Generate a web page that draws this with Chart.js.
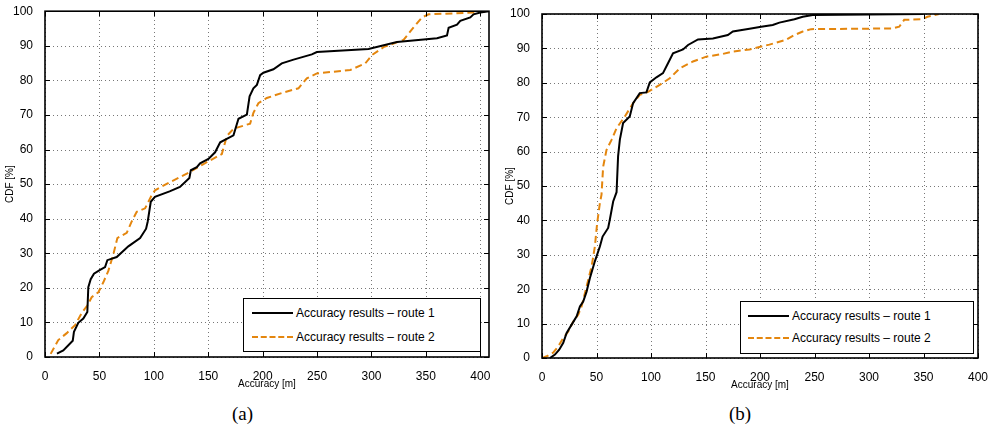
<!DOCTYPE html>
<html>
<head>
<meta charset="utf-8">
<script src="https://cdn.jsdelivr.net/npm/chart.js@4/dist/chart.umd.min.js"></script>
<style>
  body { margin: 0; background: #fff; width: 996px; height: 430px; position: relative; overflow: hidden; }
  canvas { position: absolute; }
  .legend { position: absolute; background: #fff; border: 1.3px solid #000; box-sizing: border-box;
            font: 12px "Liberation Sans", Arial, sans-serif; color: #000; }
  .row { position: absolute; left: 0; height: 14px; line-height: 14px; white-space: nowrap; }
  .row span.ln { position: absolute; top: 6px; height: 0; }
  .row span.tx { position: absolute; top: 0; }
  .cap { position: absolute; top: 403px; font: 19px "Liberation Serif", "DejaVu Serif", serif; }
</style>
</head>
<body>
<canvas id="chartA" width="500" height="392" style="left:0;top:0"></canvas>
<canvas id="chartB" width="496" height="393" style="left:500px;top:0"></canvas>
<div class="cap" style="left:232px">(a)</div>
<div class="cap" style="left:729px">(b)</div>
<script>
// (a) route 1 and route 2
const aRoute1X = [11, 16.8, 25.5, 26.6, 30.6, 35.2, 38.9, 39.8, 42, 45, 50.6, 55.2, 57.3, 65.9, 76.6, 87.4, 92.9, 94.4, 97.2, 101, 114.5, 124, 132.7, 134, 139.5, 142.5, 150.2, 156.3, 161, 173.2, 177.8, 185.5, 188, 191.5, 194.7, 197.7, 200.7, 209.9, 217.6, 228.4, 245.2, 249.8, 297.3, 323.4, 360.2, 369.4, 370.9, 378.6, 381.6, 390.8, 393.8, 400, 408];
const aRoute1Y = [1, 1.9, 4.7, 7.3, 9.9, 11.1, 13, 20.2, 22.5, 24.1, 25.2, 26, 28, 28.9, 32, 34.4, 37.1, 39.2, 44.9, 46.3, 47.9, 49.2, 51.8, 54, 54.9, 56, 57.3, 59.2, 62.1, 64.1, 68.9, 70.1, 75.4, 77.7, 78.7, 81.5, 82.2, 83.2, 84.9, 86, 87.5, 88.2, 89.1, 91.1, 92.2, 93, 95.2, 96.1, 97.2, 98.2, 99.1, 99.6, 100];
const aRoute2X = [5.2, 12.2, 20, 27.6, 33.7, 38.9, 42.9, 49, 53.6, 58.2, 62.8, 66.5, 75.1, 79.7, 84.3, 92, 98.1, 101.1, 115, 130.3, 145.6, 162.5, 167.1, 173.2, 185.5, 188.5, 191.5, 196.1, 203.8, 219.1, 232.9, 240.6, 249.8, 280.5, 294.3, 300.4, 311.1, 329.5, 338.7, 346.4, 352.5, 393.8, 408];
const aRoute2Y = [0.9, 4.9, 6.9, 9.2, 12.7, 14.9, 17.3, 18.7, 21.6, 24.9, 29.7, 34.4, 35.9, 39.2, 42, 43, 46.8, 48.2, 50.6, 53, 55.8, 58.7, 63.9, 66, 67.2, 67.5, 70.6, 73.4, 74.9, 76.5, 77.7, 80.6, 82, 83, 84.9, 87.3, 89.6, 91.7, 95.3, 98.2, 99.1, 99.6, 100];

// (b) route 1 and route 2
const bRoute1X = [7.3, 11.9, 15.8, 19.5, 22.6, 27.2, 31.8, 34.8, 37.8, 40.9, 43.9, 48.5, 53.1, 55.6, 60.7, 62.2, 65.3, 68.4, 69.8, 71.4, 74.4, 80.5, 83.6, 89.7, 95.8, 98.9, 105, 111, 115.6, 120.2, 129.4, 134, 143.1, 156.8, 170.5, 175.1, 190.4, 201.1, 211.7, 217.8, 231.6, 239.2, 248.4, 350];
const bRoute1Y = [0, 1, 2.4, 4.4, 7.3, 9.7, 12.1, 15, 16.4, 19.3, 23.2, 28.1, 32.4, 35.3, 37.8, 40.2, 45.5, 48.2, 58.6, 63.4, 68.3, 70.2, 74.1, 77, 77.2, 80.1, 81.6, 82.8, 85.7, 88.6, 89.7, 91, 92.6, 92.9, 93.9, 94.9, 95.7, 96.3, 96.8, 97.5, 98.5, 99.2, 99.7, 100];
const bRoute2X = [0, 4.3, 10.4, 15, 19.5, 24.1, 28.7, 33.2, 36.3, 39.4, 42.4, 45.5, 48.5, 50.6, 53.1, 54.6, 56.1, 59.2, 63.8, 68.4, 76, 83.6, 89.7, 97.3, 108, 117.2, 126.3, 138.5, 150.8, 166, 175.1, 190.4, 208.6, 223.9, 231.6, 239.2, 246.9, 321.6, 327.7, 332.3, 349, 353.6, 364.3];
const bRoute2Y = [0, 0.5, 1.6, 3.4, 5.8, 7.7, 10.6, 12.6, 15, 18.9, 22.7, 26.6, 32.4, 39.2, 45, 47.5, 55.6, 60.5, 63.4, 66.8, 70.2, 74.1, 76.5, 77.4, 79.4, 81.3, 84.2, 86.2, 87.6, 88.4, 89.1, 89.7, 91.1, 92.5, 93.9, 94.9, 95.6, 95.8, 96.3, 98.3, 98.5, 99.2, 100];

const seriesLabels = ['Accuracy results \u2013 route 1', 'Accuracy results \u2013 route 2'];
const yTitle = 'CDF [%]';
const xTitle = 'Accuracy [m]';

const orange = 'rgb(228,134,14)';
const font = "'Liberation Sans', Arial, sans-serif";

function zip(xs, ys) {
    return xs.map((x, i) => ({ x: x, y: ys[i] }));
}

// MATLAB style: dotted grid, full box and inward ticks
const boxPlugin = {
    id: 'box',
    beforeDatasetsDraw(chart) {
        const c = chart.ctx, a = chart.chartArea;
        const xs = chart.scales.x, ys = chart.scales.y;
        c.save();
        c.strokeStyle = '#777';
        c.lineWidth = 1;
        c.setLineDash([1, 3]);
        c.beginPath();
        xs.ticks.forEach(t => {
            const p = Math.round(xs.getPixelForValue(t.value)) + 0.5;
            c.moveTo(p, a.bottom); c.lineTo(p, a.top);
        });
        ys.ticks.forEach(t => {
            const p = Math.round(ys.getPixelForValue(t.value)) + 0.5;
            c.moveTo(a.left, p); c.lineTo(a.right, p);
        });
        c.stroke();
        c.restore();
    },
    afterDraw(chart) {
        const c = chart.ctx, a = chart.chartArea;
        const xs = chart.scales.x, ys = chart.scales.y;
        c.save();
        c.strokeStyle = '#000';
        c.lineWidth = 1;
        c.beginPath();
        xs.ticks.forEach(t => {
            const p = Math.round(xs.getPixelForValue(t.value)) + 0.5;
            c.moveTo(p, a.bottom); c.lineTo(p, a.bottom - 5);
            c.moveTo(p, a.top); c.lineTo(p, a.top + 5);
        });
        ys.ticks.forEach(t => {
            const p = Math.round(ys.getPixelForValue(t.value)) + 0.5;
            c.moveTo(a.left, p); c.lineTo(a.left + 5, p);
            c.moveTo(a.right, p); c.lineTo(a.right - 5, p);
        });
        c.stroke();
        c.lineWidth = 1.6;
        c.strokeRect(a.left, a.top, a.right - a.left, a.bottom - a.top);
        c.restore();
    }
};

function makeChart(id, r1x, r1y, r2x, r2y, xMax, yWidth, pad) {
    return new Chart(document.getElementById(id), {
        type: 'line',
        data: {
            datasets: [{
                label: seriesLabels[0],
                data: zip(r1x, r1y),
                borderColor: '#000',
                borderWidth: 2,
                pointRadius: 0,
                tension: 0
            }, {
                label: seriesLabels[1],
                data: zip(r2x, r2y),
                borderColor: orange,
                borderWidth: 2,
                borderDash: [7, 4],
                pointRadius: 0,
                tension: 0
            }]
        },
        options: {
            responsive: false,
            animation: false,
            layout: { padding: pad },
            plugins: { legend: { display: false }, tooltip: { enabled: false } },
            scales: {
                x: {
                    type: 'linear',
                    min: 0,
                    max: xMax,
                    afterFit(s) { s.height = 35; },
                    ticks: { stepSize: 50, includeBounds: false, maxRotation: 0, padding: 4, color: '#000', font: { family: font, size: 12 } },
                    grid: { display: false },
                    border: { display: false },
                    title: { display: true, text: xTitle, color: '#000', font: { family: font, size: 10 }, padding: 2 }
                },
                y: {
                    min: 0,
                    max: 100,
                    afterFit(s) { s.width = yWidth; },
                    ticks: { stepSize: 10, padding: 4, color: '#000', font: { family: font, size: 12 } },
                    grid: { display: false },
                    border: { display: false },
                    title: { display: true, text: yTitle, color: '#000', font: { family: font, size: 10 }, padding: 4 }
                }
            }
        },
        plugins: [boxPlugin]
    });
}

makeChart('chartA', aRoute1X, aRoute1Y, aRoute2X, aRoute2Y, 408, 45, { top: 7, right: 11, left: 0, bottom: 0 });
makeChart('chartB', bRoute1X, bRoute1Y, bRoute2X, bRoute2Y, 400, 42, { top: 14, right: 18, left: 0, bottom: 0 });

// legends inside the plot area
function makeLegend(left, top, width, height, lineX, lineW, textX, rowY) {
    const box = document.createElement('div');
    box.className = 'legend';
    Object.assign(box.style, { left: left + 'px', top: top + 'px', width: width + 'px', height: height + 'px' });
    seriesLabels.forEach((lab, i) => {
        const row = document.createElement('div');
        row.className = 'row';
        row.style.top = rowY[i] + 'px';
        const ln = document.createElement('span');
        ln.className = 'ln';
        ln.style.left = lineX + 'px';
        ln.style.width = lineW + 'px';
        ln.style.borderTop = i === 0 ? '2px solid #000' : '2px dashed ' + orange;
        const tx = document.createElement('span');
        tx.className = 'tx';
        tx.style.left = textX + 'px';
        tx.textContent = lab;
        row.appendChild(ln);
        row.appendChild(tx);
        box.appendChild(row);
    });
    document.body.appendChild(box);
}

makeLegend(243, 298, 238, 54, 8, 41, 52, [7, 31]);
makeLegend(740, 301, 234, 53, 7, 41, 51, [7, 29]);
</script>
</body>
</html>
